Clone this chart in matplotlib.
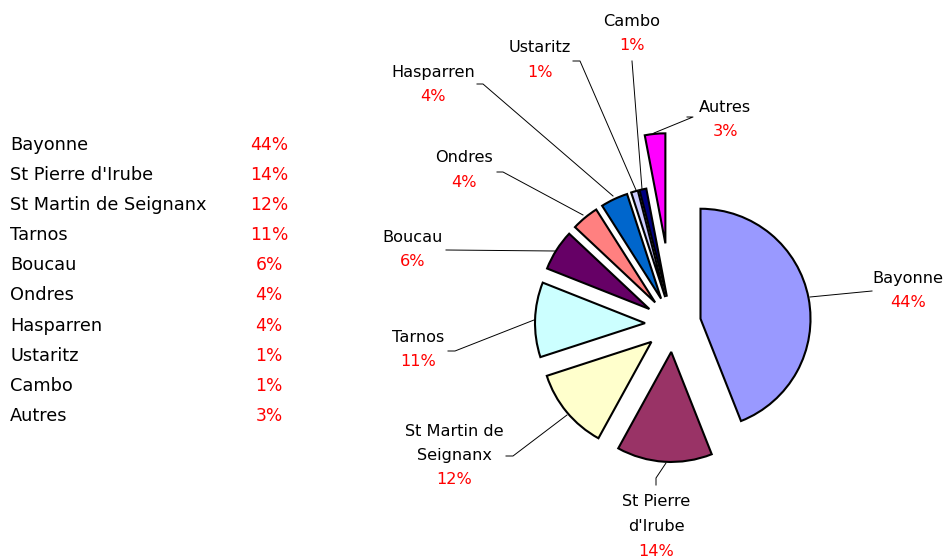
import matplotlib
matplotlib.use("Agg")
import matplotlib.pyplot as plt

# data
communes = ["Bayonne", "St Pierre d'Irube", "St Martin de Seignanx", "Tarnos",
            "Boucau", "Ondres", "Hasparren", "Ustaritz", "Cambo", "Autres"]
parts = [44, 14, 12, 11, 6, 4, 4, 1, 1, 3]
pie_names = ["Bayonne", "St Pierre\nd'Irube", "St Martin de\nSeignanx", "Tarnos",
             "Boucau", "Ondres", "Hasparren", "Ustaritz", "Cambo", "Autres"]

colors = ["#9999FF", "#993366", "#FFFFCC", "#CCFFFF", "#660066",
          "#FF8080", "#0066CC", "#CCCCFF", "#000080", "#FF00FF"]

W, H = 944, 559
fig = plt.figure(figsize=(W / 100, H / 100), dpi=100)
ax = fig.add_axes([0, 0, 1, 1])

def fy(y):
    # image row -> data y
    return H - y

# pie, in pixel units
explode = [28, 28, 28, 28, 28, 28, 28, 28, 28, 81]
ax.pie(parts, colors=colors, startangle=90, counterclock=False,
       explode=explode, radius=110, center=(673, fy(324)),
       wedgeprops=dict(edgecolor="black", linewidth=1.5))

# label anchors (centre of first line) and leader lines, image coords
label_pos = [(908, 278), (656, 502), (454, 431), (418, 337), (413, 237),
             (464, 158), (433, 72), (540, 48), (632, 21), (725, 107)]
leaders = [
    [(872, 291), (810, 297)],
    [(656, 485), (656, 478), (666, 463)],
    [(506, 456), (513, 456), (567, 415)],
    [(448, 351), (455, 351), (534, 320)],
    [(446, 250), (555, 251)],
    [(497, 172), (503, 172), (583, 215)],
    [(477, 84), (483, 84), (613, 196)],
    [(573, 61), (580, 61), (636, 190)],
    [(632, 61), (642, 189)],
    [(687, 117), (693, 117), (654, 133)],
]
step = 24.5
for name, v, (lx, ly), pts in zip(pie_names, parts, label_pos, leaders):
    lines = name.split("\n")
    for i, ln in enumerate(lines):
        ax.text(lx, fy(ly + i * step), ln, ha="center", va="center",
                fontsize=11.6, color="black")
    ax.text(lx, fy(ly + len(lines) * step), f"{v}%", ha="center", va="center",
            fontsize=11.6, color="#FF0000")
    ax.plot([p[0] for p in pts], [fy(p[1]) for p in pts], color="black", lw=0.7)

# table on the left
for i, (c, v) in enumerate(zip(communes, parts)):
    y = 145 + i * 30.1
    ax.text(10, fy(y), c, ha="left", va="center", fontsize=12.8, color="black")
    ax.text(269, fy(y), f"{v}%", ha="center", va="center", fontsize=12.3, color="#FF0000")

ax.set_xlim(0, W)
ax.set_ylim(0, H)
ax.set_aspect("equal")
ax.axis("off")

fig.savefig("out.png", dpi=100)
